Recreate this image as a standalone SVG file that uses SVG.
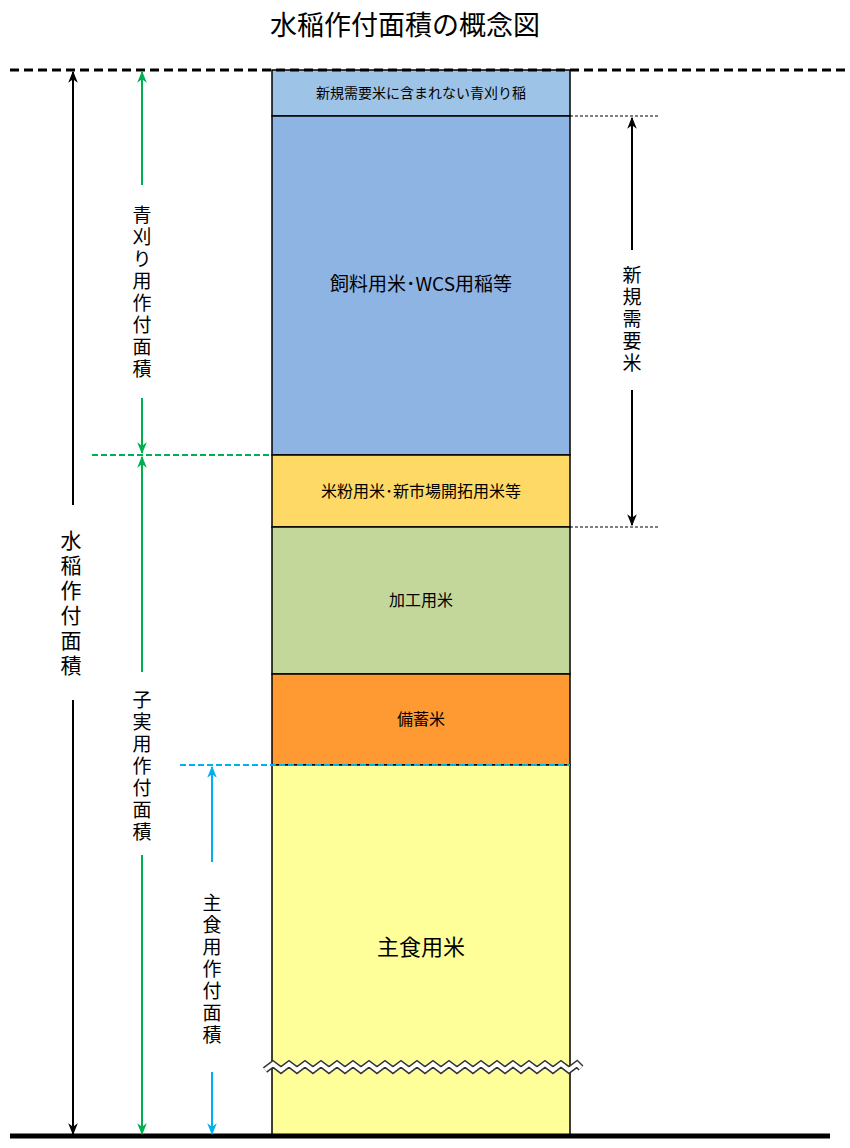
<svg xmlns="http://www.w3.org/2000/svg" width="850" height="1148" viewBox="0 0 850 1148">
<defs>
<style>
text{font-family:"Noto Sans CJK JP","Noto Sans",sans-serif;fill:#000}
.v{writing-mode:tb;glyph-orientation-vertical:0;font-size:19px;letter-spacing:3px}
.c{text-anchor:middle}
.blk{stroke:#000;stroke-width:2;fill:none}
.grn{stroke:#00B050;stroke-width:2;fill:none}
.blu{stroke:#00B0F0;stroke-width:2;fill:none}
</style>
<marker id="ak" viewBox="0 0 10 10" refX="9" refY="5" markerWidth="6" markerHeight="6" orient="auto-start-reverse"><path d="M0,1 L10,5 L0,9 L3,5 z" fill="#000"/></marker>
<marker id="ag" viewBox="0 0 10 10" refX="9" refY="5" markerWidth="6" markerHeight="6" orient="auto-start-reverse"><path d="M0,1 L10,5 L0,9 L3,5 z" fill="#00B050"/></marker>
<marker id="ab" viewBox="0 0 10 10" refX="9" refY="5" markerWidth="6" markerHeight="6" orient="auto-start-reverse"><path d="M0,1 L10,5 L0,9 L3,5 z" fill="#00B0F0"/></marker>
</defs>
<text x="405" y="35" class="c" font-size="27">水稲作付面積の概念図</text>
<g id="n1"><rect x="272" y="70" width="298" height="46" fill="#9DC3E6" stroke="#000" stroke-width="1.5"/><text x="421" y="98" class="c" font-size="14">新規需要米に含まれない青刈り稲</text></g>
<g id="n2"><rect x="272" y="116" width="298" height="339" fill="#8EB4E3" stroke="#000" stroke-width="1.5"/><text x="421" y="291" class="c" font-size="19">飼料用米･WCS用稲等</text></g>
<g id="n3"><rect x="272" y="455" width="298" height="72" fill="#FFD966" stroke="#000" stroke-width="1.5"/><text x="421" y="497" class="c" font-size="16">米粉用米･新市場開拓用米等</text></g>
<g id="n4"><rect x="272" y="527" width="298" height="147" fill="#C4D79B" stroke="#000" stroke-width="1.5"/><text x="421" y="606" class="c" font-size="16">加工用米</text></g>
<g id="n5"><rect x="272" y="674" width="298" height="91" fill="#FF9A33" stroke="#000" stroke-width="1.5"/><text x="421" y="725" class="c" font-size="16">備蓄米</text></g>
<g id="n6"><rect x="272" y="765" width="298" height="371" fill="#FFFF99" stroke="#000" stroke-width="1.5"/><text x="421" y="955" class="c" font-size="22">主食用米</text>
<polyline points="265,1070 273,1064 281,1070 289,1064 297,1070 305,1064 313,1070 321,1064 329,1070 337,1064 345,1070 353,1064 361,1070 369,1064 377,1070 385,1064 393,1070 401,1064 409,1070 417,1064 425,1070 433,1064 441,1070 449,1064 457,1070 465,1064 473,1070 481,1064 489,1070 497,1064 505,1070 513,1064 521,1070 529,1064 537,1070 545,1064 553,1070 561,1064 569,1070 577,1064 581,1068" fill="none" stroke="#333" stroke-width="7"/>
<polyline points="265,1070 273,1064 281,1070 289,1064 297,1070 305,1064 313,1070 321,1064 329,1070 337,1064 345,1070 353,1064 361,1070 369,1064 377,1070 385,1064 393,1070 401,1064 409,1070 417,1064 425,1070 433,1064 441,1070 449,1064 457,1070 465,1064 473,1070 481,1064 489,1070 497,1064 505,1070 513,1064 521,1070 529,1064 537,1070 545,1064 553,1070 561,1064 569,1070 577,1064 581,1068" fill="none" stroke="#fff" stroke-width="4"/>
</g>
<g id="connectors">
<line x1="10" y1="70" x2="845" y2="70" stroke="#000" stroke-width="3" stroke-dasharray="9,5"/>
<line x1="10" y1="1136" x2="830" y2="1136" stroke="#000" stroke-width="5"/>
<line x1="92" y1="455" x2="272" y2="455" stroke="#00B050" stroke-width="2" stroke-dasharray="6,3"/>
<line x1="180" y1="765" x2="570" y2="765" stroke="#00B0F0" stroke-width="2" stroke-dasharray="6,3"/>
<line x1="570" y1="116" x2="660" y2="116" stroke="#000" stroke-width="1" stroke-dasharray="3,2"/>
<line x1="570" y1="527" x2="660" y2="527" stroke="#000" stroke-width="1" stroke-dasharray="3,2"/>
<line x1="73" y1="505" x2="73" y2="72" class="blk" marker-end="url(#ak)"/>
<line x1="73" y1="700" x2="73" y2="1134" class="blk" marker-end="url(#ak)"/>
<line x1="142" y1="185" x2="142" y2="72" class="grn" marker-end="url(#ag)"/>
<line x1="142" y1="398" x2="142" y2="453" class="grn" marker-end="url(#ag)"/>
<line x1="142" y1="672" x2="142" y2="457" class="grn" marker-end="url(#ag)"/>
<line x1="142" y1="855" x2="142" y2="1134" class="grn" marker-end="url(#ag)"/>
<line x1="212" y1="862" x2="212" y2="767" class="blu" marker-end="url(#ab)"/>
<line x1="212" y1="1072" x2="212" y2="1134" class="blu" marker-end="url(#ab)"/>
<line x1="632" y1="250" x2="632" y2="118" class="blk" marker-end="url(#ak)"/>
<line x1="632" y1="390" x2="632" y2="525" class="blk" marker-end="url(#ak)"/>
</g>
<g id="labels">
<text x="71" y="530" class="v" style="font-size:21px;letter-spacing:4px">水稲作付面積</text>
<text x="142" y="205" class="v">青刈り用作付面積</text>
<text x="142" y="690" class="v">子実用作付面積</text>
<text x="212" y="893" class="v">主食用作付面積</text>
<text x="632" y="265" class="v">新規需要米</text>
</g>
</svg>
